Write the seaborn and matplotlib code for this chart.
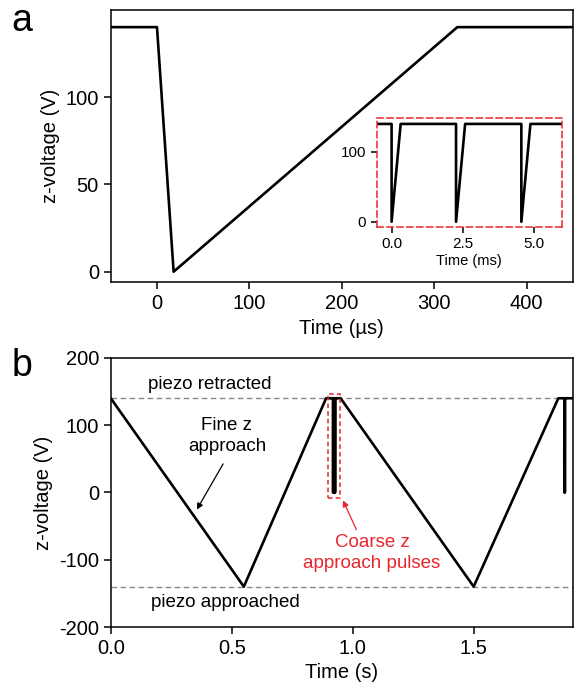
import numpy as np
import pandas as pd
import matplotlib
matplotlib.use("Agg")
import matplotlib.pyplot as plt
from matplotlib.patches import Rectangle
import seaborn as sns

# ---------------- data ----------------
# Panel a: single coarse pulse (time in microseconds)
a_time = [-50, 0, 18, 325, 450]
a_volt = [140, 140, 0, 140, 140]

# Inset: pulse train (time in ms)
inset_pulse_starts = [0.0, 2.27, 4.57]
inset_rise = 0.32
inset_xmin, inset_xmax = -0.53, 6.0
v_high = 140
v_low = 0

# Panel b: fine approach ramps (time in s)
b_time = [0.0, 0.55, 0.89]
b_volt = [140, -140, 140]
b_pulses1 = [0.919, 0.921, 0.923, 0.925, 0.927]
b_mid_time = [0.95, 1.50, 1.85]
b_mid_volt = [140, -140, 140]
b_pulses2 = [1.875, 1.877]
b_end = 1.91
pulse_rise_s = 0.0003

# ---------------- style ----------------
sns.set_style("ticks")
plt.rcParams['font.family'] = ['Liberation Sans', 'DejaVu Sans']
plt.rcParams['axes.unicode_minus'] = False
plt.rcParams['text.color'] = 'black'
plt.rcParams['axes.labelcolor'] = 'black'
plt.rcParams['xtick.color'] = 'black'
plt.rcParams['ytick.color'] = 'black'
plt.rcParams['axes.linewidth'] = 1.1
plt.rcParams['xtick.major.width'] = 1.1
plt.rcParams['ytick.major.width'] = 1.1
plt.rcParams['xtick.major.size'] = 5
plt.rcParams['ytick.major.size'] = 5
plt.rcParams['axes.edgecolor'] = 'black'

TS = 14.5
AS = 13.5
LW = 1.9
RED = "#e8262d"

fig = plt.figure(figsize=(5.74, 6.90), dpi=100)
ax_a = fig.add_axes([0.193, 0.591, 0.805, 0.395])
ax_b = fig.add_axes([0.193, 0.0913, 0.805, 0.390])
ax_in = fig.add_axes([0.656, 0.6715, 0.323, 0.157])

# panel a
dfa = pd.DataFrame({"t": a_time, "v": a_volt})
sns.lineplot(data=dfa, x="t", y="v", ax=ax_a, color="black", lw=LW, sort=False, estimator=None)
ax_a.set_xlim(-50, 450)
ax_a.set_ylim(-6, 150)
ax_a.set_xticks([0, 100, 200, 300, 400])
ax_a.set_yticks([0, 50, 100])
ax_a.set_xlabel("Time (µs)", fontsize=TS)
ax_a.set_ylabel("z-voltage (V)", fontsize=TS)
ax_a.tick_params(labelsize=TS)

# inset
it, iv = [inset_xmin], [v_high]
for p in inset_pulse_starts:
    it += [p, p, p + inset_rise]
    iv += [v_high, v_low, v_high]
it.append(inset_xmax)
iv.append(v_high)
dfi = pd.DataFrame({"t": it, "v": iv})
sns.lineplot(data=dfi, x="t", y="v", ax=ax_in, color="black", lw=LW, sort=False, estimator=None)
ax_in.set_xlim(inset_xmin, inset_xmax)
ax_in.set_ylim(-7, 148)
ax_in.set_xticks([0.0, 2.5, 5.0])
ax_in.set_xticklabels(["0.0", "2.5", "5.0"])
ax_in.set_yticks([0, 100])
ax_in.set_xlabel("Time (ms)", fontsize=10.5, labelpad=2)
ax_in.set_ylabel("")
ax_in.tick_params(labelsize=11, length=4)
for s in ax_in.spines.values():
    s.set_edgecolor(RED)
    s.set_linestyle((0, (4, 2.5)))
    s.set_linewidth(1.1)

# panel b
bt = list(b_time)
bv = list(b_volt)
for p in b_pulses1:
    bt += [p, p, p + pulse_rise_s]
    bv += [v_high, v_low, v_high]
bt += b_mid_time
bv += b_mid_volt
for p in b_pulses2:
    bt += [p, p, p + pulse_rise_s]
    bv += [v_high, v_low, v_high]
bt.append(b_end)
bv.append(v_high)
dfb = pd.DataFrame({"t": bt, "v": bv})
ax_b.axhline(140, color="#888888", lw=1.0, ls=(0, (4, 2.5)), zorder=1)
ax_b.axhline(-140, color="#888888", lw=1.0, ls=(0, (4, 2.5)), zorder=1)
sns.lineplot(data=dfb, x="t", y="v", ax=ax_b, color="black", lw=LW, sort=False, estimator=None)
ax_b.set_xlim(0, b_end)
ax_b.set_ylim(-200, 200)
ax_b.set_xticks([0.0, 0.5, 1.0, 1.5])
ax_b.set_xticklabels(["0.0", "0.5", "1.0", "1.5"])
ax_b.set_yticks([-200, -100, 0, 100, 200])
ax_b.set_xlabel("Time (s)", fontsize=TS)
ax_b.set_ylabel("z-voltage (V)", fontsize=TS)
ax_b.tick_params(labelsize=TS)

ax_b.text(0.41, 161, "piezo retracted", ha="center", va="center", fontsize=AS)
ax_b.text(0.475, -164, "piezo approached", ha="center", va="center", fontsize=AS)
ax_b.text(0.48, 84, "Fine z\napproach", ha="center", va="center", fontsize=AS, linespacing=1.35)
ax_b.annotate("", xy=(0.35, -29), xytext=(0.47, 46),
              arrowprops=dict(arrowstyle="-|>", color="black", lw=0.9, mutation_scale=9))
ax_b.text(1.08, -90, "Coarse z\napproach pulses", ha="center", va="center", fontsize=AS,
          color=RED, linespacing=1.35)
ax_b.annotate("", xy=(0.955, -8), xytext=(1.02, -59),
              arrowprops=dict(arrowstyle="-|>", color=RED, lw=0.9, mutation_scale=9))
ax_b.add_patch(Rectangle((0.897, -8), 0.049, 154, fill=False, edgecolor=RED,
                         ls=(0, (3, 2)), lw=1.1, zorder=3))

fig.align_ylabels([ax_a, ax_b])
fig.text(0.02, 0.97, "a", fontsize=27, va="center", ha="left")
fig.text(0.02, 0.47, "b", fontsize=27, va="center", ha="left")

fig.savefig("out.png", dpi=100)
